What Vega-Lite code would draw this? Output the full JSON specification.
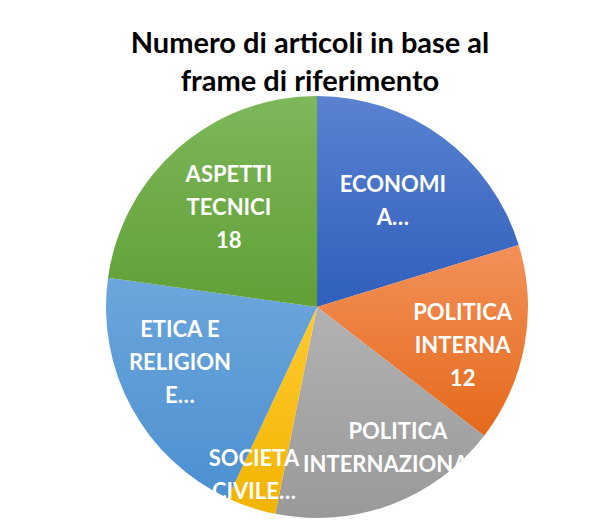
{
  "$schema": "https://vega.github.io/schema/vega-lite/v6.json",
  "width": 574,
  "height": 430,
  "autosize": {"type": "none"},
  "padding": {"left": 30, "top": 92, "right": 0, "bottom": 0},
  "background": "white",
  "config": {"view": {"stroke": null}},
  "title": {
    "text": ["Numero di articoli in base al", "frame di riferimento"],
    "font": "Lato",
    "fontSize": 29,
    "fontWeight": "bold",
    "color": "#000000",
    "lineHeight": 38,
    "anchor": "middle",
    "dx": -7,
    "offset": -5
  },
  "data": {
    "values": [
      {"ord": 1, "categoria": "ECONOMIA", "n": 16, "label": "ECONOMI\nA…"},
      {"ord": 2, "categoria": "POLITICA INTERNA", "n": 12, "label": "POLITICA\nINTERNA\n12"},
      {"ord": 3, "categoria": "POLITICA INTERNAZIONALE", "n": 14, "label": "POLITICA\nINTERNAZIONALE"},
      {"ord": 4, "categoria": "SOCIETA CIVILE", "n": 3, "label": "SOCIETA\nCIVILE…"},
      {"ord": 5, "categoria": "ETICA E RELIGIONE", "n": 16, "label": "ETICA E\nRELIGION\nE…"},
      {"ord": 6, "categoria": "ASPETTI TECNICI", "n": 18, "label": "ASPETTI\nTECNICI\n18"}
    ]
  },
  "encoding": {
    "theta": {"field": "n", "type": "quantitative", "stack": true},
    "order": {"field": "ord", "type": "quantitative"}
  },
  "layer": [
    {
      "mark": {"type": "arc", "radius": 211},
      "encoding": {
        "color": {
          "condition": [
            {"test": "datum.ord == 1", "value": {"gradient": "linear", "x1": 0, "y1": 0, "x2": 0, "y2": 1, "stops": [{"offset": 0, "color": "#5A82D0"}, {"offset": 1, "color": "#2F5EBC"}]}},
            {"test": "datum.ord == 2", "value": {"gradient": "linear", "x1": 0, "y1": 0, "x2": 0, "y2": 1, "stops": [{"offset": 0, "color": "#F3915A"}, {"offset": 1, "color": "#E4691A"}]}},
            {"test": "datum.ord == 3", "value": {"gradient": "linear", "x1": 0, "y1": 0, "x2": 0, "y2": 1, "stops": [{"offset": 0, "color": "#B2B2B2"}, {"offset": 1, "color": "#999999"}]}},
            {"test": "datum.ord == 4", "value": {"gradient": "linear", "x1": 0, "y1": 0, "x2": 0, "y2": 1, "stops": [{"offset": 0, "color": "#FFCA30"}, {"offset": 1, "color": "#F2B400"}]}},
            {"test": "datum.ord == 5", "value": {"gradient": "linear", "x1": 0, "y1": 0, "x2": 0, "y2": 1, "stops": [{"offset": 0, "color": "#6CA6DC"}, {"offset": 1, "color": "#4C90D0"}]}}
          ],
          "value": {"gradient": "linear", "x1": 0, "y1": 0, "x2": 0, "y2": 1, "stops": [{"offset": 0, "color": "#7DB75A"}, {"offset": 1, "color": "#60A036"}]}
        }
      }
    },
    {
      "mark": {"type": "text", "radius": 148, "dy": -20, "font": "Lato", "fontSize": 22, "fontWeight": "bold", "lineHeight": 33, "lineBreak": "\n", "align": "center", "baseline": "middle"},
      "encoding": {"color": {"value": "#FFFFFF"}, "text": {"condition": {"test": "datum.ord == 2", "field": "label"}, "value": ""}}
    },
    {
      "mark": {"type": "text", "radius": 148, "dx": 9, "dy": -20, "font": "Lato", "fontSize": 22, "fontWeight": "bold", "lineHeight": 33, "lineBreak": "\n", "align": "center", "baseline": "middle"},
      "encoding": {"color": {"value": "#FFFFFF"}, "text": {"condition": {"test": "datum.ord == 6", "field": "label"}, "value": ""}}
    },
    {
      "mark": {"type": "text", "radius": 148, "dx": -12, "dy": -3, "font": "Lato", "fontSize": 22, "fontWeight": "bold", "lineHeight": 33, "lineBreak": "\n", "align": "center", "baseline": "middle"},
      "encoding": {"color": {"value": "#FFFFFF"}, "text": {"condition": {"test": "datum.ord == 1", "field": "label"}, "value": ""}}
    },
    {
      "mark": {"type": "text", "radius": 148, "dx": 29, "dy": -14, "font": "Lato", "fontSize": 22, "fontWeight": "bold", "lineHeight": 33, "lineBreak": "\n", "align": "center", "baseline": "middle"},
      "encoding": {"color": {"value": "#FFFFFF"}, "text": {"condition": {"test": "datum.ord == 3", "field": "label"}, "value": ""}}
    },
    {
      "mark": {"type": "text", "radius": 160, "dx": -13, "font": "Lato", "fontSize": 22, "fontWeight": "bold", "lineHeight": 33, "lineBreak": "\n", "align": "center", "baseline": "middle"},
      "encoding": {"color": {"value": "#FFFFFF"}, "text": {"condition": {"test": "datum.ord == 4", "field": "label"}, "value": ""}}
    },
    {
      "mark": {"type": "text", "radius": 148, "dx": -7, "dy": -48, "font": "Lato", "fontSize": 22, "fontWeight": "bold", "lineHeight": 33, "lineBreak": "\n", "align": "center", "baseline": "middle"},
      "encoding": {"color": {"value": "#FFFFFF"}, "text": {"condition": {"test": "datum.ord == 5", "field": "label"}, "value": ""}}
    }
  ]
}
